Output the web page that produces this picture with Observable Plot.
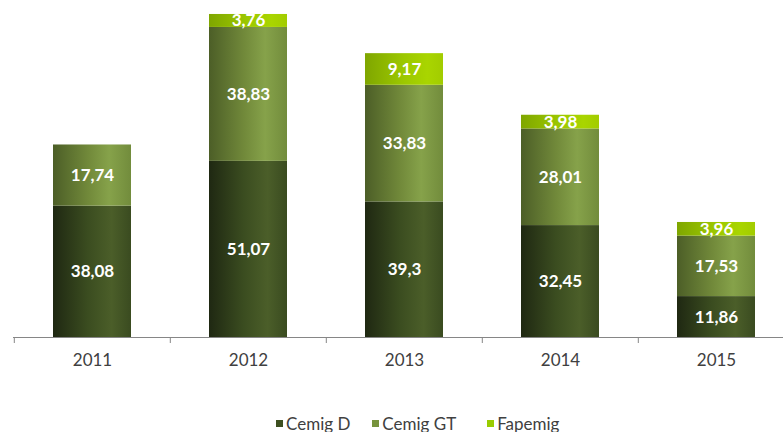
<!DOCTYPE html>
<html>
<head>
<meta charset="utf-8">
<script src="https://cdn.jsdelivr.net/npm/d3@7"></script>
<script src="https://cdn.jsdelivr.net/npm/@observablehq/plot@0.6"></script>
<style>
  html, body { margin: 0; padding: 0; background: #fff; }
  #legend { display: flex; align-items: center; height: 26px; padding-left: 276px;
            font-family: Lato, sans-serif; font-size: 17px; color: #404040; }
  #legend .item { display: flex; align-items: center; margin-right: 22px; }
  #legend .item:nth-child(2) { margin-right: 31px; }
  #legend .sw { width: 7px; height: 7px; margin-right: 3px; }
</style>
</head>
<body>
<div id="chart"></div>
<div id="legend"></div>
<script>
const years = ["2011", "2012", "2013", "2014", "2015"];
const series = ["Cemig D", "Cemig GT", "Fapemig"];
const cemigD  = [38.08, 51.07, 39.3, 32.45, 11.86];
const cemigGT = [17.74, 38.83, 33.83, 28.01, 17.53];
const fapemig = [null, 3.76, 9.17, 3.98, 3.96];
const swatchColors = ["#3d4f1f", "#77933c", "#99cc00"];
const gradIds = ["gD", "gGT", "gF"];

const cols = [cemigD, cemigGT, fapemig];
const data = [];
years.forEach((year, i) => {
  series.forEach((s, j) => {
    const v = cols[j][i];
    if (v != null) data.push({year, series: s, value: v, label: String(v).replace(".", ",")});
  });
});

const W = 783, H = 410;
const xRange = [13, 795];
const step = (xRange[1] - xRange[0]) / years.length;

const chart = Plot.plot({
  width: W,
  height: H,
  marginLeft: 13,
  marginRight: 0,
  marginTop: 0,
  marginBottom: H - 337,
  style: {fontFamily: "Lato, sans-serif", fontSize: "17px", color: "#404040", background: "#fff"},
  x: {domain: years, range: xRange, paddingInner: 0.5, paddingOuter: 0.25, label: null, tickSize: 0, tickPadding: 16},
  y: {domain: [0, 95], range: [337, 9.35], axis: null},
  color: {type: "ordinal", domain: series, range: gradIds.map(id => `url(#${id})`)},
  marks: [
    Plot.barY(data, {x: "year", y: "value", fill: "series"}),
    Plot.text(data, Plot.stackY({x: "year", y: "value", z: "series", text: "label",
      fill: "white", fontWeight: "bold", fontSize: 17})),
    Plot.ruleY([0], {stroke: "#868686", strokeWidth: 1}),
    Plot.ruleX(years, {x: d => d, y1: 0, y2: 0, dx: -step / 2, insetBottom: -6, stroke: "#868686"})
  ]
});

// gradients for the bar fills
const defs = d3.select(chart).insert("defs", ":first-child");
const grads = [
  [[0, "#1f2812"], [0.45, "#3b4d20"], [0.75, "#4b5e29"], [1, "#3a4b20"]],
  [[0, "#4c5e27"], [0.45, "#71893a"], [0.72, "#86a24a"], [1, "#728c3c"]],
  [[0, "#7fa600"], [0.5, "#9cc800"], [0.8, "#a9d500"], [1, "#a2cc00"]]
];
grads.forEach((stops, k) => {
  const g = defs.append("linearGradient").attr("id", gradIds[k])
    .attr("x1", "0").attr("y1", "0").attr("x2", "1").attr("y2", "0");
  stops.forEach(([o, c]) => g.append("stop").attr("offset", o).attr("stop-color", c));
});

document.getElementById("chart").appendChild(chart);

const legend = d3.select("#legend");
series.forEach((s, j) => {
  const it = legend.append("div").attr("class", "item");
  it.append("div").attr("class", "sw").style("background", swatchColors[j]);
  it.append("span").text(s);
});
</script>
</body>
</html>
